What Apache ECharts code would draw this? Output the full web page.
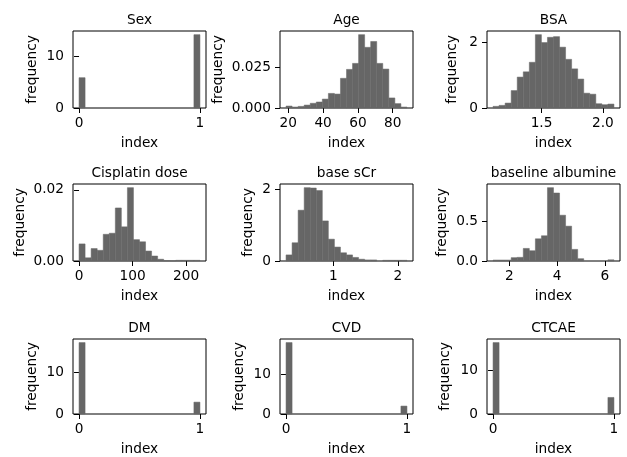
<!DOCTYPE html>
<html>
<head>
<meta charset="utf-8">
<script src="https://cdn.jsdelivr.net/npm/echarts@6/dist/echarts.min.js"></script>
<style>
html, body { margin: 0; padding: 0; background: #fff; }
#main { width: 627px; height: 457px; }
</style>
</head>
<body>
<div id="main"></div>
<script>
// histogram densities, 20 bins each
var titles = ['Sex', 'Age', 'BSA', 'Cisplatin dose', 'base sCr', 'baseline albumine', 'DM', 'CVD', 'CTCAE'];
var binRange = [[0, 1], [18.7, 88.2], [1.105, 2.09], [0, 226], [0.27, 2.14], [1.32, 6.38], [0, 1], [0, 1], [0, 1]];

var sexDensity = [5.85, 0, 0, 0, 0, 0, 0, 0, 0, 0, 0, 0, 0, 0, 0, 0, 0, 0, 0, 14.15];
var ageDensity = [0.0012, 0.0006, 0.001, 0.0018, 0.0029, 0.0037, 0.0055, 0.009, 0.0086, 0.0183,
                  0.0238, 0.0275, 0.0452, 0.0374, 0.041, 0.0275, 0.024, 0.0062, 0.0027, 0.0006];
var bsaDensity = [0.05, 0.08, 0.15, 0.53, 0.94, 1.10, 1.39, 2.23, 1.99, 2.15,
                  2.17, 1.85, 1.48, 1.19, 0.88, 0.45, 0.42, 0.13, 0.10, 0.12];
var cisDensity = [0.0048, 0.0009, 0.0035, 0.003, 0.0075, 0.0078, 0.0149, 0.0096, 0.0206, 0.006,
                  0.0054, 0.0028, 0.0014, 0.0005, 0.0001, 0.00005, 0.0002, 0.0002, 0.0002, 0.0002];
var scrDensity = [0.17, 0.51, 1.42, 2.05, 2.04, 1.97, 1.12, 0.61, 0.39, 0.23,
                  0.17, 0.10, 0.05, 0.03, 0.03, 0, 0.02, 0.02, 0.02, 0.02];
var albDensity = [0.012, 0.012, 0.012, 0.042, 0.046, 0.158, 0.129, 0.279, 0.317, 0.921,
                  0.854, 0.575, 0.4375, 0.146, 0.029, 0, 0, 0, 0, 0.015];
var dmDensity = [17.15, 0, 0, 0, 0, 0, 0, 0, 0, 0, 0, 0, 0, 0, 0, 0, 0, 0, 0, 2.85];
var cvdDensity = [18.0, 0, 0, 0, 0, 0, 0, 0, 0, 0, 0, 0, 0, 0, 0, 0, 0, 0, 0, 2.0];
var ctcaeDensity = [16.4, 0, 0, 0, 0, 0, 0, 0, 0, 0, 0, 0, 0, 0, 0, 0, 0, 0, 0, 3.8];

var densities = [sexDensity, ageDensity, bsaDensity, cisDensity, scrDensity, albDensity, dmDensity, cvdDensity, ctcaeDensity];

// tick labels
var xTicks = [[0, 1], [20, 40, 60, 80], [1.5, 2.0], [0, 100, 200], [1, 2], [2, 4, 6], [0, 1], [0, 1], [0, 1]];
var xDecimals = [0, 0, 1, 0, 0, 0, 0, 0, 0];
var yTicks = [[0, 10], [0, 0.025], [0, 2], [0, 0.02], [0, 2], [0, 0.5], [0, 10], [0, 10], [0, 10]];
var yDecimals = [0, 3, 0, 2, 0, 1, 0, 0, 0];
var yNameGap = [34, 55, 28, 46, 25, 38, 34, 34, 35];

var colLeft = [73, 280, 487];
var rowTop = [31, 184, 339];
var boxW = 133, boxH = 77;
var font = 'DejaVu Sans';
var fs = 13.7;

var grids = [], xAxes = [], yAxes = [], series = [], titleList = [];

function renderItem(params, api) {
	var p0 = api.coord([api.value(0), api.value(2)]);
	var p1 = api.coord([api.value(1), 0]);
	return {
		type : 'rect',
		shape : { x : p0[0], y : p0[1], width : p1[0] - p0[0], height : p1[1] - p0[1] },
		style : { fill : '#666666', stroke : '#666666', lineWidth : 0.5 }
	};
}

for (var i = 0; i < 9; i++) {
	var gLeft = colLeft[i % 3], gTop = rowTop[Math.floor(i / 3)];
	var lo = binRange[i][0], hi = binRange[i][1], w = (hi - lo) / 20;
	var d = densities[i];
	var rows = [];
	var ymax = 0;
	for (var k = 0; k < d.length; k++) {
		if (d[k] > 0) rows.push([lo + k * w, lo + (k + 1) * w, d[k]]);
		if (d[k] > ymax) ymax = d[k];
	}
	grids.push({
		left : gLeft, top : gTop, width : boxW, height : boxH,
		show : true, borderColor : '#000', borderWidth : 1, backgroundColor : 'transparent'
	});
	(function (xd, yd) {
		xAxes.push({
			type : 'value', gridIndex : i,
			min : lo - 0.05 * (hi - lo), max : hi + 0.05 * (hi - lo),
			splitLine : { show : false },
			axisLine : { show : false },
			axisTick : { show : true, length : 5, lineStyle : { color : '#000' }, customValues : xTicks[i] },
			axisLabel : { customValues : xTicks[i], margin : 8, color : '#000', fontFamily : font, fontSize : fs,
				formatter : function (v) { return v.toFixed(xd); } },
			name : 'index', nameLocation : 'middle', nameGap : 28,
			nameTextStyle : { color : '#000', fontFamily : font, fontSize : fs }
		});
		yAxes.push({
			type : 'value', gridIndex : i,
			min : 0, max : ymax * 1.05,
			splitLine : { show : false },
			axisLine : { show : false },
			axisTick : { show : true, length : 5, lineStyle : { color : '#000' }, customValues : yTicks[i] },
			axisLabel : { customValues : yTicks[i], margin : 9, color : '#000', fontFamily : font, fontSize : fs,
				formatter : function (v) { return v.toFixed(yd); } },
			name : 'frequency', nameLocation : 'middle', nameGap : yNameGap[i],
			nameTextStyle : { color : '#000', fontFamily : font, fontSize : fs }
		});
	})(xDecimals[i], yDecimals[i]);
	series.push({
		type : 'custom', xAxisIndex : i, yAxisIndex : i,
		renderItem : renderItem,
		encode : { x : [0, 1], y : 2 },
		data : rows,
		silent : true
	});
	titleList.push({
		text : titles[i],
		left : gLeft + boxW / 2, top : gTop - 18, textAlign : 'center', padding : 0,
		textStyle : { color : '#000', fontFamily : font, fontSize : fs, fontWeight : 'normal' }
	});
}

var myChart = echarts.init(document.getElementById('main'));
myChart.setOption({
	animation : false,
	title : titleList,
	grid : grids,
	xAxis : xAxes,
	yAxis : yAxes,
	series : series
});
</script>
</body>
</html>
